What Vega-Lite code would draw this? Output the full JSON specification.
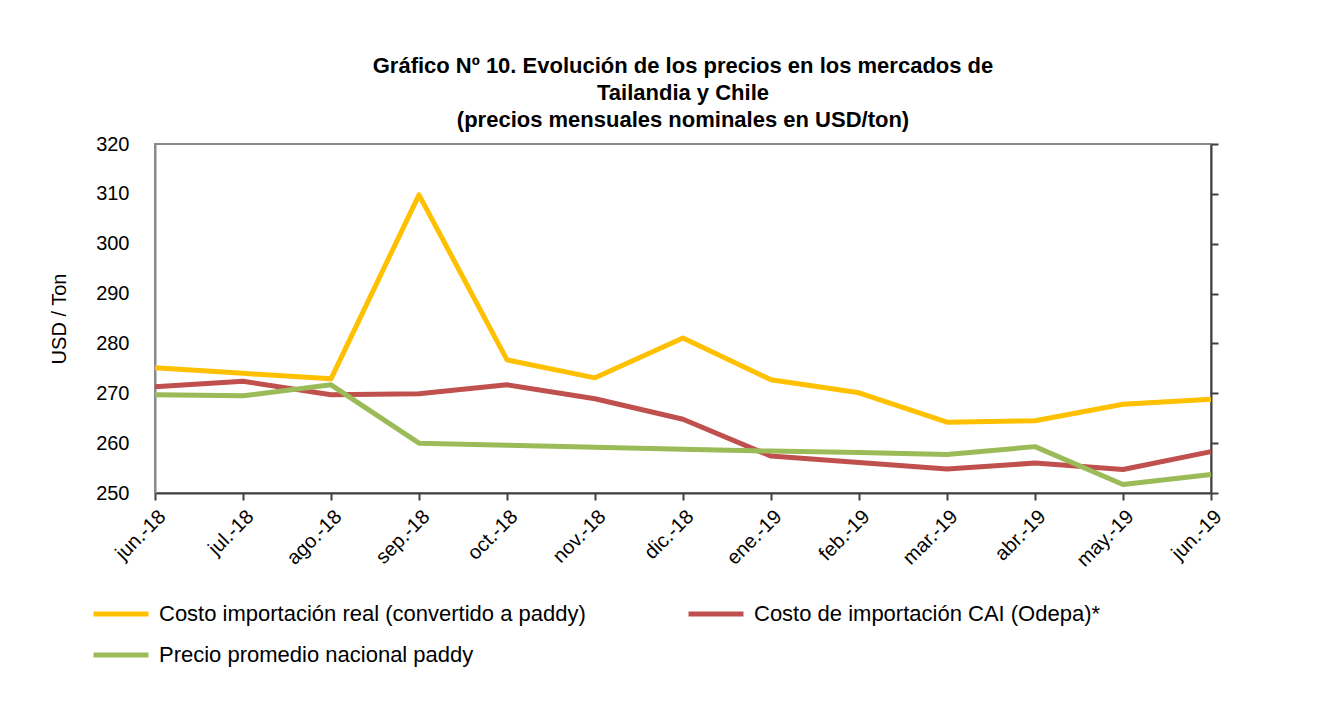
{
  "$schema": "https://vega.github.io/schema/vega-lite/v6.json",
  "width": 1056,
  "height": 349,
  "autosize": {"type": "none"},
  "padding": {"left": 155, "top": 144, "right": 111, "bottom": 229},
  "background": "white",
  "title": {
    "text": ["Gráfico Nº 10. Evolución de los precios en los mercados de", "Tailandia y Chile", "(precios mensuales nominales en USD/ton)"],
    "font": "Liberation Sans",
    "fontSize": 22,
    "fontWeight": "bold",
    "color": "black",
    "anchor": "middle",
    "lineHeight": 27,
    "offset": 2
  },
  "config": {
    "view": {"stroke": "#8a8a8a", "strokeWidth": 2},
    "axis": {"grid": false, "labelFont": "Liberation Sans", "titleFont": "Liberation Sans", "labelColor": "black", "titleColor": "black", "labelOverlap": false}
  },
  "data": {
    "values": [
      {"mes": "jun.-18", "serie": "Costo importación real (convertido a paddy)", "valor": 275.1},
      {"mes": "jul.-18", "serie": "Costo importación real (convertido a paddy)", "valor": 274.0},
      {"mes": "ago.-18", "serie": "Costo importación real (convertido a paddy)", "valor": 272.9},
      {"mes": "sep.-18", "serie": "Costo importación real (convertido a paddy)", "valor": 309.8},
      {"mes": "oct.-18", "serie": "Costo importación real (convertido a paddy)", "valor": 276.7},
      {"mes": "nov.-18", "serie": "Costo importación real (convertido a paddy)", "valor": 273.1},
      {"mes": "dic.-18", "serie": "Costo importación real (convertido a paddy)", "valor": 281.1},
      {"mes": "ene.-19", "serie": "Costo importación real (convertido a paddy)", "valor": 272.7},
      {"mes": "feb.-19", "serie": "Costo importación real (convertido a paddy)", "valor": 270.1},
      {"mes": "mar.-19", "serie": "Costo importación real (convertido a paddy)", "valor": 264.2},
      {"mes": "abr.-19", "serie": "Costo importación real (convertido a paddy)", "valor": 264.5},
      {"mes": "may.-19", "serie": "Costo importación real (convertido a paddy)", "valor": 267.8},
      {"mes": "jun.-19", "serie": "Costo importación real (convertido a paddy)", "valor": 268.8},
      {"mes": "jun.-18", "serie": "Costo de importación CAI (Odepa)*", "valor": 271.3},
      {"mes": "jul.-18", "serie": "Costo de importación CAI (Odepa)*", "valor": 272.4},
      {"mes": "ago.-18", "serie": "Costo de importación CAI (Odepa)*", "valor": 269.7},
      {"mes": "sep.-18", "serie": "Costo de importación CAI (Odepa)*", "valor": 269.9},
      {"mes": "oct.-18", "serie": "Costo de importación CAI (Odepa)*", "valor": 271.7},
      {"mes": "nov.-18", "serie": "Costo de importación CAI (Odepa)*", "valor": 268.9},
      {"mes": "dic.-18", "serie": "Costo de importación CAI (Odepa)*", "valor": 264.8},
      {"mes": "ene.-19", "serie": "Costo de importación CAI (Odepa)*", "valor": 257.4},
      {"mes": "feb.-19", "serie": "Costo de importación CAI (Odepa)*", "valor": 256.1},
      {"mes": "mar.-19", "serie": "Costo de importación CAI (Odepa)*", "valor": 254.8},
      {"mes": "abr.-19", "serie": "Costo de importación CAI (Odepa)*", "valor": 256.0},
      {"mes": "may.-19", "serie": "Costo de importación CAI (Odepa)*", "valor": 254.7},
      {"mes": "jun.-19", "serie": "Costo de importación CAI (Odepa)*", "valor": 258.3},
      {"mes": "jun.-18", "serie": "Precio promedio nacional paddy", "valor": 269.7},
      {"mes": "jul.-18", "serie": "Precio promedio nacional paddy", "valor": 269.5},
      {"mes": "ago.-18", "serie": "Precio promedio nacional paddy", "valor": 271.7},
      {"mes": "sep.-18", "serie": "Precio promedio nacional paddy", "valor": 260.0},
      {"mes": "oct.-18", "serie": "Precio promedio nacional paddy", "valor": 259.6},
      {"mes": "nov.-18", "serie": "Precio promedio nacional paddy", "valor": 259.2},
      {"mes": "dic.-18", "serie": "Precio promedio nacional paddy", "valor": 258.8},
      {"mes": "ene.-19", "serie": "Precio promedio nacional paddy", "valor": 258.4},
      {"mes": "feb.-19", "serie": "Precio promedio nacional paddy", "valor": 258.1},
      {"mes": "mar.-19", "serie": "Precio promedio nacional paddy", "valor": 257.7},
      {"mes": "abr.-19", "serie": "Precio promedio nacional paddy", "valor": 259.3},
      {"mes": "may.-19", "serie": "Precio promedio nacional paddy", "valor": 251.7},
      {"mes": "jun.-19", "serie": "Precio promedio nacional paddy", "valor": 253.7}
    ]
  },
  "encoding": {
    "x": {
      "field": "mes",
      "type": "ordinal",
      "sort": ["jun.-18", "jul.-18", "ago.-18", "sep.-18", "oct.-18", "nov.-18", "dic.-18", "ene.-19", "feb.-19", "mar.-19", "abr.-19", "may.-19", "jun.-19"],
      "scale": {"type": "point", "padding": 0},
      "axis": {
        "title": null,
        "labelAngle": -45,
        "labelFontSize": 20,
        "labelPadding": 6,
        "domainColor": "#404040",
        "domainWidth": 2,
        "tickColor": "#404040",
        "tickWidth": 2,
        "tickSize": 7
      }
    },
    "y": {
      "field": "valor",
      "type": "quantitative",
      "scale": {"domain": [250, 320], "nice": false, "zero": false}
    }
  },
  "layer": [
    {
      "mark": {"type": "line", "strokeWidth": 5, "strokeJoin": "round"},
      "encoding": {
        "y": {
          "field": "valor",
          "type": "quantitative",
          "axis": {
            "title": "USD / Ton",
            "titleFontSize": 20,
            "titleFontWeight": "normal",
            "titlePadding": 26,
            "labelFontSize": 20,
            "labelPadding": 26,
            "values": [250, 260, 270, 280, 290, 300, 310, 320],
            "ticks": false,
            "domainColor": "#8a8a8a",
            "domainWidth": 2
          }
        },
        "color": {
          "field": "serie",
          "type": "nominal",
          "sort": ["Costo importación real (convertido a paddy)", "Costo de importación CAI (Odepa)*", "Precio promedio nacional paddy"],
          "scale": {
            "domain": ["Costo importación real (convertido a paddy)", "Costo de importación CAI (Odepa)*", "Precio promedio nacional paddy"],
            "range": ["#FFC000", "#C0504D", "#9BBB59"]
          },
          "legend": {
            "title": null,
            "orient": "none",
            "legendX": -64,
            "legendY": 440,
            "direction": "horizontal",
            "columns": 2,
            "columnPadding": 92,
            "rowPadding": -13,
            "symbolType": "stroke",
            "symbolStrokeWidth": 5,
            "symbolSize": 3025,
            "labelFont": "Liberation Sans",
            "labelFontSize": 22,
            "labelColor": "black",
            "labelOffset": 8,
            "labelLimit": 600
          }
        }
      }
    },
    {
      "mark": {"type": "line", "strokeOpacity": 0},
      "encoding": {
        "detail": {"field": "serie"},
        "y": {
          "field": "valor",
          "type": "quantitative",
          "axis": {
            "orient": "right",
            "title": null,
            "labels": false,
            "values": [250, 260, 270, 280, 290, 300, 310, 320],
            "domainColor": "#404040",
            "domainWidth": 2,
            "tickColor": "#404040",
            "tickWidth": 2,
            "tickSize": 7
          }
        }
      }
    }
  ],
  "resolve": {"axis": {"y": "independent"}}
}
